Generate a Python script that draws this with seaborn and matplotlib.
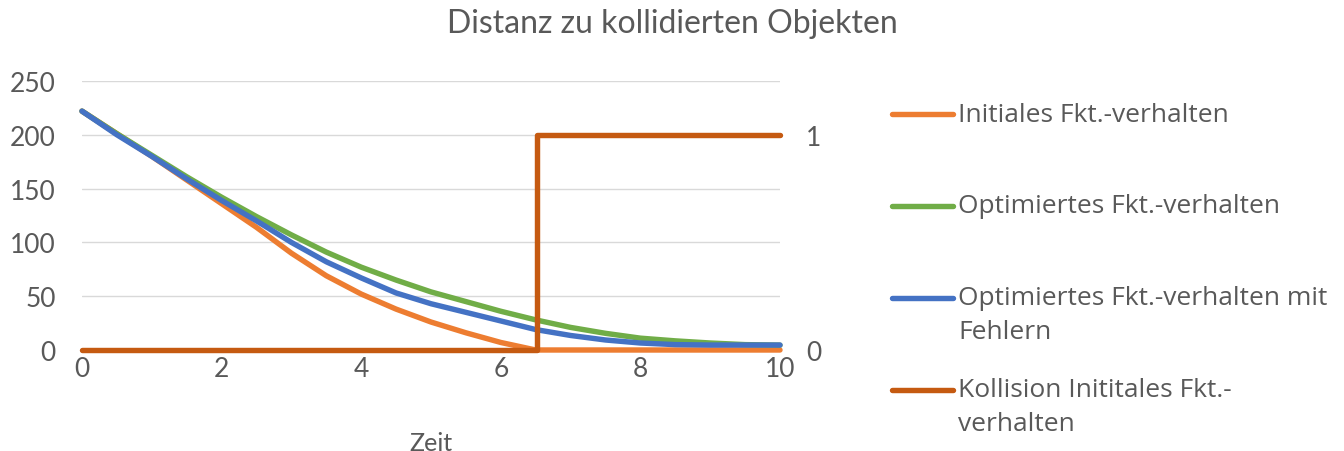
import matplotlib
matplotlib.use("Agg")
import matplotlib.pyplot as plt
from matplotlib.lines import Line2D
import seaborn as sns

# Zeit (s) and distances
zeit = [0, 0.5, 1, 1.5, 2, 2.5, 3, 3.5, 4, 4.5, 5, 5.5, 6, 6.5, 7, 7.5, 8, 8.5, 9, 9.5, 10]
initial = [222, 201, 180, 158, 136, 114, 90, 69, 52, 38, 26, 16, 7, 0, 0, 0, 0, 0, 0, 0, 0]
optimiert = [222, 201, 181, 161, 142, 124, 107, 91, 77, 65, 54, 45, 36, 28, 21, 15.5, 11, 8.5, 6.5, 5, 4.5]
opt_fehler = [222, 200, 180, 159, 139, 120, 100, 82, 67, 53, 43, 35, 27, 19, 13.5, 9.3, 6.5, 5, 4.6, 4.6, 4.6]

# collision flag (right axis)
koll_zeit = [0, 6.52, 10]
koll_flag = [0, 1, 1]

labels = [
    ["Initiales Fkt.-verhalten"],
    ["Optimiertes Fkt.-verhalten"],
    ["Optimiertes Fkt.-verhalten mit", "Fehlern"],
    ["Kollision Inititales Fkt.-", "verhalten"],
]
colors = ["#ED7D31", "#70AD47", "#4472C4", "#C55A11"]

sns.set_theme(style="white")
plt.rcParams["font.family"] = ["Lato", "DejaVu Sans"]
txt = "#595959"

fig = plt.figure(figsize=(13.44, 4.52), dpi=100)
ax = fig.add_axes([82 / 1344, 1 - 351 / 452, 698 / 1344, 269 / 452])

lw = 3.9
kw = dict(lw=lw, solid_capstyle="round", clip_on=False)
sns.lineplot(x=zeit, y=initial, ax=ax, color=colors[0], zorder=3, **kw)
sns.lineplot(x=zeit, y=optimiert, ax=ax, color=colors[1], zorder=4, **kw)
sns.lineplot(x=zeit, y=opt_fehler, ax=ax, color=colors[2], zorder=5, **kw)

ax.set_xlim(0, 10)
ax.set_ylim(0, 250)
ax.set_xticks([0, 2, 4, 6, 8, 10])
ax.set_yticks([0, 50, 100, 150, 200, 250])
ax.yaxis.grid(True, color="#D9D9D9", lw=1)
ax.xaxis.grid(False)
for s in ax.spines.values():
    s.set_visible(False)
ax.tick_params(axis="y", length=0, pad=19, labelsize=19, labelcolor=txt)
ax.tick_params(axis="x", length=0, pad=4, labelsize=19, labelcolor=txt)
ax.set_xlabel("Zeit", fontsize=18, color=txt, labelpad=36)

ax2 = ax.twinx()
sns.lineplot(x=koll_zeit, y=koll_flag, ax=ax2, color=colors[3],
             drawstyle="steps-post", **kw)
ax2.set_ylim(0, 1.25)
ax2.set_yticks([0, 1])
for s in ax2.spines.values():
    s.set_visible(False)
ax2.tick_params(axis="y", length=0, pad=19, labelsize=19, labelcolor=txt)

fig.suptitle("Distanz zu kollidierten Objekten", x=0.5, y=1 - 9 / 452,
             va="top", fontsize=23, color=txt)

# legend drawn by hand so the handle sits on the first text line
leg_y = [115, 207, 299, 391]
for lab, c, y in zip(labels, colors, leg_y):
    yf = 1 - y / 452
    fig.add_artist(Line2D([892 / 1344, 953 / 1344], [yf, yf], color=c, lw=lw,
                          solid_capstyle="round", transform=fig.transFigure))
    for i, line in enumerate(lab):
        fig.text(958 / 1344, 1 - (y + 34 * i) / 452, line, va="center", ha="left",
                 fontsize=19, color=txt, family=["Open Sans", "DejaVu Sans"])

fig.savefig("out.png", dpi=100)
